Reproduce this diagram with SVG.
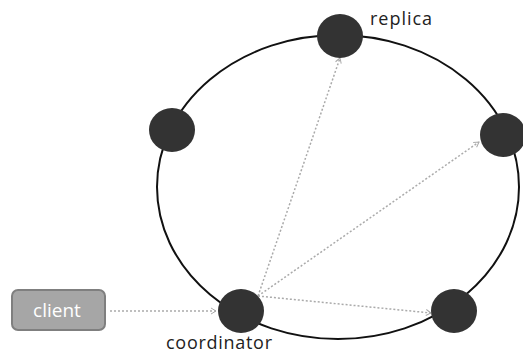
<svg xmlns="http://www.w3.org/2000/svg" width="523" height="356" viewBox="0 0 523 356">
<style>
.node{fill:#333333;}
.lbl{font-family:"Open Sans","Liberation Sans",sans-serif;font-size:18px;fill:#222;}
.conn{stroke:#aaaaaa;stroke-width:1.5;stroke-dasharray:2 2;fill:none;marker-end:url(#arr);}
</style>
<defs>
<marker id="arr" markerWidth="8" markerHeight="8" refX="6" refY="4" orient="auto" markerUnits="userSpaceOnUse">
<path d="M1,1 L6,4 L1,7" fill="none" stroke="#aaaaaa" stroke-width="1"/>
</marker>
</defs>
<rect width="523" height="356" fill="#ffffff"/>
<g id="ring"><ellipse cx="338" cy="187" rx="181" ry="152" fill="none" stroke="#111" stroke-width="2"/></g>
<g id="connectors">
<line class="conn" x1="110" y1="311" x2="216" y2="311"/>
<line class="conn" x1="258" y1="296" x2="340" y2="58"/>
<line class="conn" x1="258" y1="296" x2="479" y2="142"/>
<line class="conn" x1="258" y1="296" x2="431" y2="313"/>
</g>
<g id="client">
<rect x="12" y="290" width="93" height="40" rx="6" fill="#a6a6a6" stroke="#7f7f7f" stroke-width="2"/>
<text x="57" y="317" text-anchor="middle" font-family="'Open Sans','Liberation Sans',sans-serif" font-size="19" fill="#ffffff">client</text>
</g>
<g id="replica"><ellipse class="node" cx="340" cy="36" rx="23" ry="22"/><text class="lbl" x="370" y="25" textLength="62">replica</text></g>
<g id="node-left"><ellipse class="node" cx="172" cy="130" rx="23" ry="22"/></g>
<g id="node-right"><ellipse class="node" cx="503" cy="135" rx="23" ry="22"/></g>
<g id="node-bottom-right"><ellipse class="node" cx="454" cy="311" rx="23" ry="22"/></g>
<g id="coordinator"><ellipse class="node" cx="241" cy="311" rx="23" ry="22"/><text class="lbl" x="166" y="349" textLength="106">coordinator</text></g>
</svg>
